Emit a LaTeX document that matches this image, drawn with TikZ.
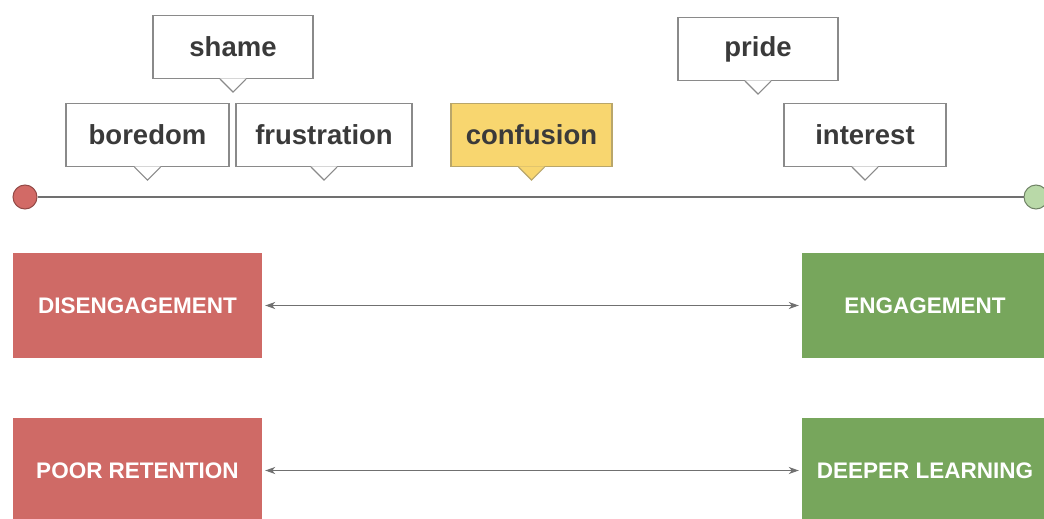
\documentclass[tikz,border=0pt]{standalone}
\usepackage{fontspec}
\setmainfont{Liberation Sans}
\usetikzlibrary{arrows.meta,calc}
\definecolor{redbox}{HTML}{CF6A66}
\definecolor{greenbox}{HTML}{77A65C}
\definecolor{yellowbox}{HTML}{F8D66F}
\definecolor{calloutborder}{HTML}{8A8A8A}
\definecolor{yellowborder}{HTML}{B9A66A}
\definecolor{labeltext}{HTML}{3A3A3A}
\definecolor{linegray}{HTML}{707070}
\definecolor{redcircle}{HTML}{D26A66}
\definecolor{greencircle}{HTML}{B9D9A8}
\newcommand{\calloutptr}[3]{%
  \fill[#2] ($(#1.south)+(-13,-0.7)$) -- ($(#1.south)+(0,13)$) -- ($(#1.south)+(13,-0.7)$) -- cycle;
  \draw[#3, line width=1.2pt, line join=miter] ($(#1.south)+(-13,0)$) -- ($(#1.south)+(0,13)$) -- ($(#1.south)+(13,0)$);}
\begin{document}
\begin{tikzpicture}[x=1pt,y=-1pt,
  callout/.style={draw=calloutborder, line width=1.2pt, fill=white, inner sep=0pt,
    minimum height=63pt, text=labeltext, font=\fontsize{27.5}{30}\selectfont\bfseries},
  bigbox/.style={inner sep=0pt, minimum width=249pt, minimum height=105pt,
    text=white, font=\fontsize{22.5}{26}\selectfont\bfseries},
  link/.style={linegray, line width=1.1pt, {Stealth[length=10pt,width=7pt,inset=3pt]}-{Stealth[length=10pt,width=7pt,inset=3pt]}, shorten <=3pt, shorten >=3pt}
]
\useasboundingbox (0,0) rectangle (1044,519);
\clip (0,0) rectangle (1044,519);

% timeline
\node[circle, fill=redcircle, draw=redcircle!70!black, line width=1pt, minimum size=24pt, inner sep=0pt] (start) at (25,197) {};
\node[circle, fill=greencircle, draw=greencircle!60!black, line width=1pt, minimum size=24pt, inner sep=0pt] (finish) at (1036,197) {};
\draw[linegray, line width=1.5pt] (start) -- (finish);

% callouts
\node[callout, minimum width=160pt] (shame) at (233,47) {shame};
\calloutptr{shame}{white}{calloutborder}
\node[callout, minimum width=163pt] (boredom) at (147.5,135) {boredom};
\calloutptr{boredom}{white}{calloutborder}
\node[callout, minimum width=176pt] (frustration) at (324,135) {frustration};
\calloutptr{frustration}{white}{calloutborder}
\node[callout, minimum width=161pt, fill=yellowbox, draw=yellowborder] (confusion) at (531.5,135) {confusion};
\calloutptr{confusion}{yellowbox}{yellowborder}
\node[callout, minimum width=160pt] (pride) at (758,49) {pride};
\calloutptr{pride}{white}{calloutborder}
\node[callout, minimum width=162pt] (interest) at (865,135) {interest};
\calloutptr{interest}{white}{calloutborder}

% outcome boxes
\node[bigbox, fill=redbox] (diseng) at (137.5,305.5) {DISENGAGEMENT};
\node[bigbox, fill=greenbox, minimum width=246pt] (eng) at (925,305.5) {ENGAGEMENT};
\node[bigbox, fill=redbox] (poor) at (137.5,470.5) {POOR RETENTION};
\node[bigbox, fill=greenbox, minimum width=246pt] (deep) at (925,470.5) {DEEPER LEARNING};

\draw[link] (diseng) -- (eng);
\draw[link] (poor) -- (deep);
\end{tikzpicture}
\end{document}
